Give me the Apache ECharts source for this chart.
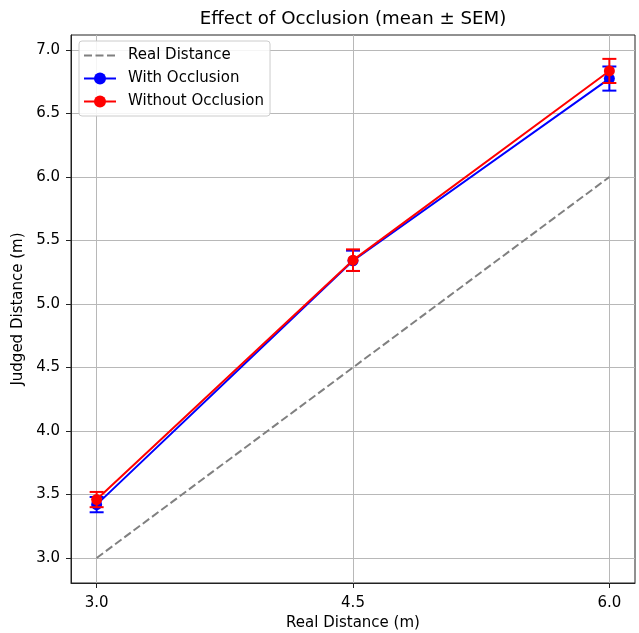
<!DOCTYPE html>
<html>
<head>
<meta charset="utf-8">
<script src="https://cdn.jsdelivr.net/npm/echarts@6/dist/echarts.min.js"></script>
<style>
html,body{margin:0;padding:0;background:#fff;}
#chart{width:639px;height:633px;}
</style>
</head>
<body>
<div id="chart"></div>
<script>
const realDist = [3.0, 4.5, 6.0];
const withMean = [3.42, 5.34, 6.775];
const withSem = [0.06, 0.08, 0.095];
const withoutMean = [3.46, 5.345, 6.835];
const withoutSem = [0.06, 0.085, 0.095];
const xTicks = [3.0, 4.5, 6.0];
const yTicks = [3.0, 3.5, 4.0, 4.5, 5.0, 5.5, 6.0, 6.5, 7.0];

const FONT = 'DejaVu Sans';
const chart = echarts.init(document.getElementById('chart'));

function errData(means, sems) {
  return realDist.map((x, i) => [x, means[i] - sems[i], means[i] + sems[i]]);
}
function errRender(color) {
  return function (params, api) {
    const x = api.value(0), lo = api.value(1), hi = api.value(2);
    const p1 = api.coord([x, lo]), p2 = api.coord([x, hi]);
    const cw = 7;
    const st = {stroke: color, lineWidth: 2};
    return {type: 'group', children: [
      {type: 'line', shape: {x1: p1[0], y1: p1[1], x2: p2[0], y2: p2[1]}, style: st},
      {type: 'line', shape: {x1: p1[0] - cw, y1: p1[1], x2: p1[0] + cw, y2: p1[1]}, style: st},
      {type: 'line', shape: {x1: p2[0] - cw, y1: p2[1], x2: p2[0] + cw, y2: p2[1]}, style: st}
    ]};
  };
}

const option = {
  animation: false,
  textStyle: {fontFamily: FONT},
  title: {
    text: 'Effect of Occlusion (mean ± SEM)',
    left: 348, top: 5, textAlign: 'center',
    textStyle: {fontFamily: FONT, fontSize: 18.2, fontWeight: 'normal', color: '#000'}
  },
  legend: {
    orient: 'vertical',
    left: 79, top: 41,
    padding: [7, 6, 7, 4],
    itemWidth: 32, itemHeight: 15, itemGap: 8,
    backgroundColor: 'rgba(255,255,255,0.85)',
    borderColor: '#cccccc', borderWidth: 1, borderRadius: 3,
    textStyle: {fontFamily: FONT, fontSize: 15, color: '#000', padding: [0, 0, 0, 7]},
    data: [
      {name: 'Real Distance', itemStyle: {opacity: 0}},
      'With Occlusion',
      'Without Occlusion'
    ]
  },
  grid: {
    left: 71, right: 4, top: 35, bottom: 50,
    containLabel: false, outerBoundsMode: 'none',
    show: true, borderColor: '#222', borderWidth: 1, backgroundColor: 'transparent'
  },
  xAxis: {
    type: 'value', min: 2.85, max: 6.15,
    name: 'Real Distance (m)', nameLocation: 'middle', nameGap: 33,
    nameTextStyle: {fontFamily: FONT, fontSize: 15, color: '#000'},
    axisLine: {show: true, lineStyle: {color: '#222', width: 1}},
    axisTick: {show: true, length: 5, lineStyle: {color: '#222'}, customValues: xTicks},
    axisLabel: {customValues: xTicks, color: '#000', fontSize: 15, fontFamily: FONT, margin: 13,
      formatter: v => v.toFixed(1)},
    splitLine: {show: true, lineStyle: {color: '#b8b8b8', width: 1}}
  },
  yAxis: {
    type: 'value', min: 2.803, max: 7.118,
    name: 'Judged Distance (m)', nameLocation: 'middle', nameGap: 40, nameRotate: 90,
    nameTextStyle: {fontFamily: FONT, fontSize: 15, color: '#000'},
    axisLine: {show: true, lineStyle: {color: '#222', width: 1}},
    axisTick: {show: true, length: 5, lineStyle: {color: '#222'}, customValues: yTicks},
    axisLabel: {customValues: yTicks, color: '#000', fontSize: 15, fontFamily: FONT, margin: 11,
      formatter: v => v.toFixed(1)},
    splitLine: {show: true, lineStyle: {color: '#b8b8b8', width: 1}}
  },
  series: [
    {
      name: 'Real Distance', type: 'line', z: 2,
      data: realDist.map((x, i) => [x, realDist[i]]),
      symbol: 'none', color: '#808080',
      lineStyle: {color: '#808080', width: 2, type: [8, 3.5]}
    },
    {
      name: 'With Occlusion', type: 'line', z: 4,
      data: realDist.map((x, i) => [x, withMean[i]]),
      symbol: 'circle', symbolSize: 11, color: '#0000ff',
      itemStyle: {color: '#0000ff'},
      lineStyle: {color: '#0000ff', width: 2}
    },
    {
      name: 'With Occlusion', type: 'custom', z: 3,
      renderItem: errRender('#0000ff'),
      encode: {x: 0, y: [1, 2]},
      data: errData(withMean, withSem)
    },
    {
      name: 'Without Occlusion', type: 'line', z: 6,
      data: realDist.map((x, i) => [x, withoutMean[i]]),
      symbol: 'circle', symbolSize: 11, color: '#ff0000',
      itemStyle: {color: '#ff0000'},
      lineStyle: {color: '#ff0000', width: 2}
    },
    {
      name: 'Without Occlusion', type: 'custom', z: 5,
      renderItem: errRender('#ff0000'),
      encode: {x: 0, y: [1, 2]},
      data: errData(withoutMean, withoutSem)
    }
  ]
};
chart.setOption(option);
</script>
</body>
</html>
